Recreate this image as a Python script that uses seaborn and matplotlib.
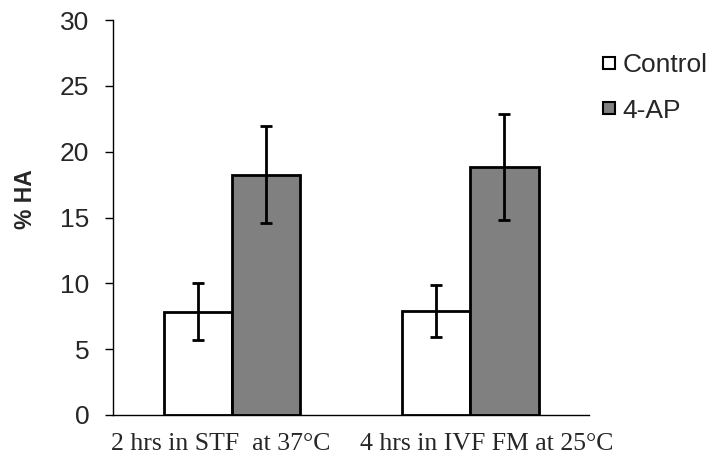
import matplotlib
matplotlib.use("Agg")
import matplotlib.pyplot as plt
import matplotlib.transforms as mtransforms
import seaborn as sns
import pandas as pd
import numpy as np
from matplotlib.patches import Patch

categories = ["2 hrs in STF  at 37°C", "4 hrs in IVF FM at 25°C"]
groups = ["Control", "4-AP"]
control_vals = [7.85, 7.9]
ap_vals = [18.25, 18.85]
control_err = [2.15, 1.95]
ap_err = [3.7, 4.0]
yticks = [0, 5, 10, 15, 20, 25, 30]

df = pd.DataFrame({
    "cat": categories * 2,
    "grp": [groups[0]] * 2 + [groups[1]] * 2,
    "val": control_vals + ap_vals,
    "err": control_err + ap_err,
})

sns.set_style("white")
plt.rcParams["font.family"] = ["Liberation Sans", "DejaVu Sans"]

fig = plt.figure(figsize=(7.1, 4.58), dpi=100)
ax = fig.add_axes([0.159, 0.094, 0.671, 0.862])

sns.barplot(data=df, x="cat", y="val", hue="grp", hue_order=groups,
            palette={"Control": "white", "4-AP": "#808080"},
            edgecolor="black", linewidth=2, width=0.575, errorbar=None,
            ax=ax, legend=False)

for p, v, e in zip(ax.patches, df["val"], df["err"]):
    cx = p.get_x() + p.get_width() / 2
    ax.errorbar(cx, v, yerr=e, fmt="none", ecolor="black", elinewidth=2,
                capsize=4.5, capthick=2)

ax.set_xlim(-0.5, 1.5)
ax.set_ylim(0, 30)
ax.set_yticks(yticks)
ax.set_yticklabels([str(t) for t in yticks], fontsize=19)
ax.set_xticks([0, 1])
ax.set_xticklabels(categories, fontsize=18.5, family=["Liberation Serif"])
ax.set_xticks([-0.5, 0.5, 1.5], minor=True)
ax.tick_params(axis="x", which="major", length=0, pad=13)
ax.tick_params(axis="x", which="minor", length=5, width=1, direction="out", color="black")
ax.tick_params(axis="y", length=6, width=1, direction="out", color="black", pad=11, left=True)
ax.set_xlabel("")
ax.set_ylabel("% HA", fontsize=16.5, fontweight="bold")
ax.yaxis.set_label_coords(-0.16, 0.547)

# shift category labels slightly as in the reference
for lab, dx in zip(ax.get_xticklabels(), [-0.11, 0.16]):
    lab.set_transform(lab.get_transform() + mtransforms.ScaledTranslation(dx, 0, fig.dpi_scale_trans))

for s in ["top", "right"]:
    ax.spines[s].set_visible(False)
for s in ["left", "bottom"]:
    ax.spines[s].set_color("black")
    ax.spines[s].set_linewidth(1)

handles = [Patch(facecolor="white", edgecolor="black", linewidth=1.5),
           Patch(facecolor="#808080", edgecolor="black", linewidth=1.5)]
leg = fig.legend(handles, groups, loc="upper left", bbox_to_anchor=(0.849, 0.884),
                 frameon=False, fontsize=19, handlelength=0.455, handleheight=0.32,
                 handletextpad=0.3, labelspacing=0.82, borderpad=0, borderaxespad=0)

fig.savefig("out.png", dpi=100)
